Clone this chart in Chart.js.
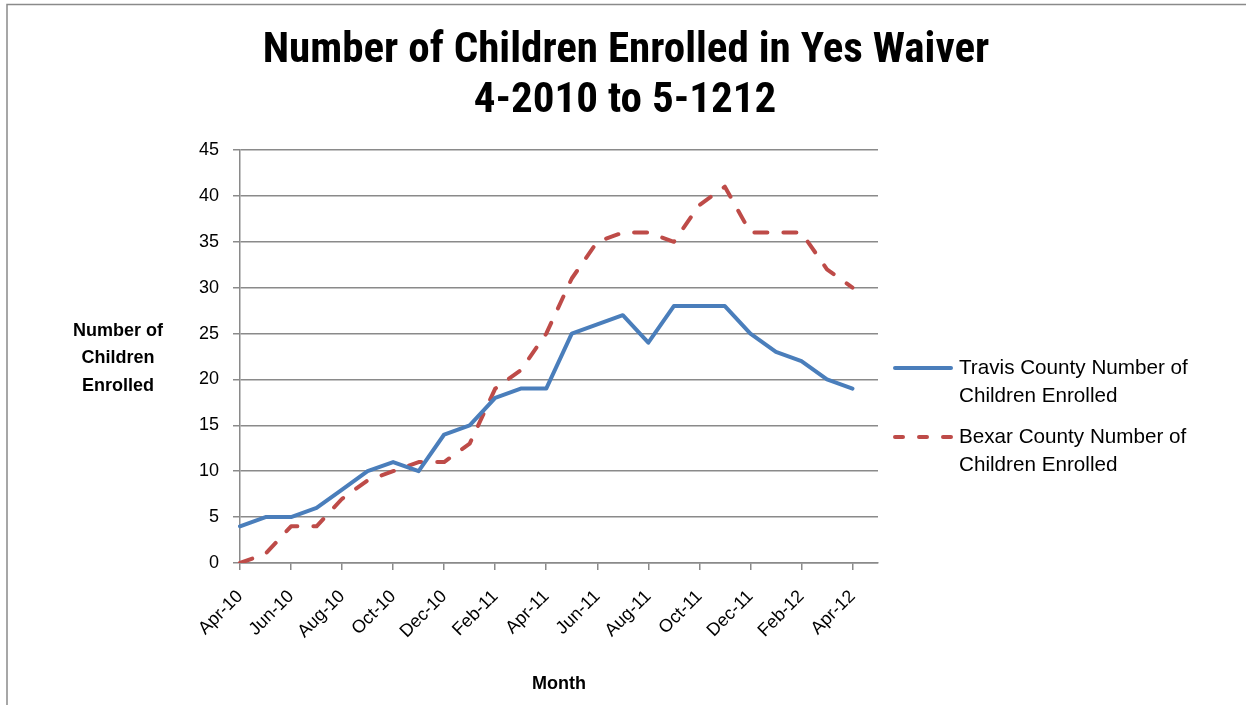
<!DOCTYPE html>
<html>
<head>
<meta charset="utf-8">
<script src="https://cdn.jsdelivr.net/npm/chart.js@4.4.1/dist/chart.umd.min.js"></script>
<style>
html,body{margin:0;padding:0;background:#fff;}
#wrap{position:relative;width:1246px;height:705px;}
canvas{display:block;}
</style>
</head>
<body>
<div id="wrap"><canvas id="c" width="1246" height="705"></canvas></div>
<script>
// ---- data ----
const months = ["Apr-10","May-10","Jun-10","Jul-10","Aug-10","Sep-10","Oct-10","Nov-10","Dec-10","Jan-11","Feb-11","Mar-11","Apr-11","May-11","Jun-11","Jul-11","Aug-11","Sep-11","Oct-11","Nov-11","Dec-11","Jan-12","Feb-12","Mar-12","Apr-12","May-12"];
const travis = [4,5,5,6,8,10,11,10,14,15,18,19,19,25,26,27,24,28,28,28,25,23,22,20,19,null];
const bexar  = [0,1,4,4,7,9,10,11,11,13,19,21,25,31,35,36,36,35,39,41,36,36,36,32,30,null];
const yTicks = [0,5,10,15,20,25,30,35,40,45];
const titleLines = ["Number of Children Enrolled in Yes Waiver","4-2010 to 5-1212"];
const yTitleLines = ["Number of","Children","Enrolled"];
const xTitle = "Month";
const seriesNames = [["Travis County Number of","Children Enrolled"],["Bexar County Number of","Children Enrolled"]];

const BLUE = "#4A7EBB", RED = "#BE4B48", GRID = "#8a8a8a";
const SANS = "'Liberation Sans', Arial, sans-serif";
const NARROW = "'Liberation Sans Narrow', 'Roboto Condensed', 'Liberation Sans', Arial, sans-serif";

function fitSize(ctx, text, target, weight, family){
  ctx.font = weight + " 100px " + family;
  const w = ctx.measureText(text).width;
  return 100 * target / w;
}

const decor = {
  id: 'decor',
  afterDraw(chart){
    const ctx = chart.ctx;
    ctx.save();
    // frame
    ctx.strokeStyle = GRID; ctx.lineWidth = 1.5;
    ctx.beginPath(); ctx.moveTo(7,705); ctx.lineTo(7,4.5); ctx.lineTo(1246,4.5); ctx.stroke();
    ctx.fillStyle = "#000";
    ctx.textAlign = "center"; ctx.textBaseline = "middle";
    // title
    const ts = fitSize(ctx, titleLines[0], 727, "bold", NARROW);
    ctx.font = "bold " + ts + "px " + NARROW;
    ctx.fillText(titleLines[0], 626, 51);
    ctx.fillText(titleLines[1], 625, 101);
    // y title
    const ys = Math.min(18, fitSize(ctx, yTitleLines[0], 100, "bold", SANS));
    ctx.font = "bold " + ys + "px " + SANS;
    ctx.fillText(yTitleLines[0], 118, 331);
    ctx.fillText(yTitleLines[1], 118, 358);
    ctx.fillText(yTitleLines[2], 118, 386);
    // x title
    ctx.fillText(xTitle, 559, 684);
    // legend
    const ls = fitSize(ctx, seriesNames[0][0], 229, "normal", SANS);
    ctx.font = ls + "px " + SANS;
    ctx.textAlign = "left";
    ctx.fillText(seriesNames[0][0], 959, 368);
    ctx.fillText(seriesNames[0][1], 959, 396);
    ctx.fillText(seriesNames[1][0], 959, 437);
    ctx.fillText(seriesNames[1][1], 959, 465);
    ctx.lineWidth = 4; ctx.lineCap = "round";
    ctx.strokeStyle = BLUE;
    ctx.beginPath(); ctx.moveTo(895,368); ctx.lineTo(951,368); ctx.stroke();
    ctx.strokeStyle = RED;
    ctx.setLineDash([8,16]);
    ctx.beginPath(); ctx.moveTo(895,437); ctx.lineTo(951,437); ctx.stroke();
    ctx.restore();
  }
};

new Chart(document.getElementById('c'), {
  type: 'line',
  data: {
    labels: months,
    datasets: [
      {label: seriesNames[0].join(' '), data: travis, borderColor: BLUE, backgroundColor: BLUE,
       borderWidth: 4, pointRadius: 0, tension: 0, borderJoinStyle: 'round', borderCapStyle: 'round', spanGaps: false},
      {label: seriesNames[1].join(' '), data: bexar, borderColor: RED, backgroundColor: RED,
       borderWidth: 4, pointRadius: 0, tension: 0, borderDash: [13,16], borderJoinStyle: 'round', borderCapStyle: 'round', spanGaps: false}
    ]
  },
  options: {
    responsive: false,
    animation: false,
    layout: {padding: {left: 0, right: 368, top: 150, bottom: 0}},
    plugins: {legend: {display: false}, title: {display: false}, tooltip: {enabled: false}},
    scales: {
      x: {
        offset: false,
        afterFit: s => { s.height = 142; },
        grid: {
          drawOnChartArea: false, drawTicks: true, tickLength: 7, lineWidth: 1.5,
          color: c => (c.index % 2 === 0 ? GRID : 'rgba(0,0,0,0)')
        },
        border: {display: true, color: GRID, width: 1.5},
        ticks: {
          autoSkip: false, maxRotation: 45, minRotation: 45, padding: 16,
          color: '#000', font: {family: SANS, size: 18},
          callback: function(v, i){ return i % 2 === 0 ? months[i] : ''; }
        }
      },
      y: {
        min: 0, max: 45,
        afterFit: s => { s.width = 240; },
        afterBuildTicks: s => { s.ticks = yTicks.map(v => ({value: v})); },
        grid: {color: GRID, lineWidth: 1.5, drawTicks: true, tickLength: 7},
        border: {display: true, color: GRID, width: 1.5},
        ticks: {padding: 14, color: '#000', font: {family: SANS, size: 18}}
      }
    }
  },
  plugins: [decor]
});
</script>
</body>
</html>
